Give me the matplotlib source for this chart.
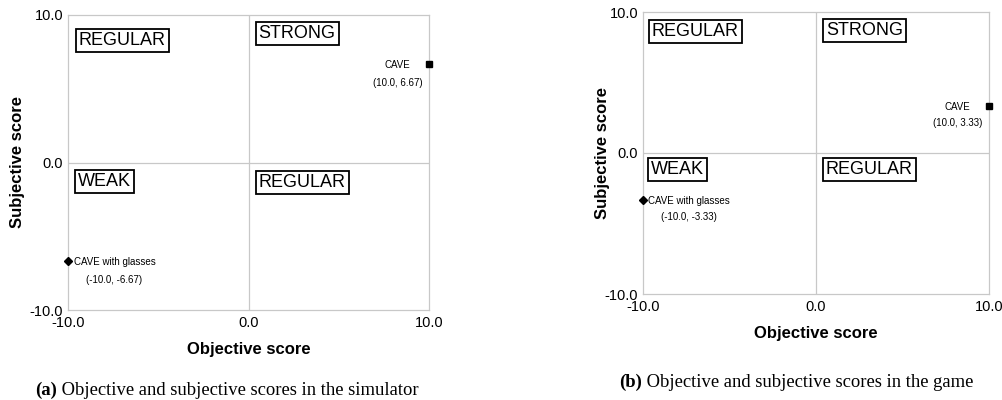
import matplotlib
matplotlib.use('Agg')
import matplotlib.pyplot as plt

plt.rcParams['font.family'] = ['Liberation Sans', 'DejaVu Sans']

# (x, y) scores
sim_cave = (10.0, 6.67)
sim_glasses = (-10.0, -6.67)
game_cave = (10.0, 3.33)
game_glasses = (-10.0, -3.33)

ticks = [-10.0, 0.0, 10.0]
tick_labels = ['-10.0', '0.0', '10.0']
quadrants = ['REGULAR', 'STRONG', 'WEAK', 'REGULAR']
captions = [('(a)', ' Objective and subjective scores in the simulator'),
            ('(b)', ' Objective and subjective scores in the game')]

grid_col = '#c8c8c8'


def draw_panel(ax, cave, glasses, box_pos, ylab_xy, text_gap, xlab_pad):
    ax.set_xlim(-10, 10)
    ax.set_ylim(-10, 10)
    ax.set_xticks(ticks)
    ax.set_xticklabels(tick_labels)
    ax.set_yticks(ticks)
    ax.set_yticklabels(tick_labels)
    ax.tick_params(length=0, labelsize=10.5)
    ax.tick_params(axis='y', pad=3.5)
    ax.tick_params(axis='x', pad=4)
    for s in ax.spines.values():
        s.set_color(grid_col)
        s.set_linewidth(0.9)
    ax.axhline(0, color=grid_col, lw=0.9, zorder=0)
    ax.axvline(0, color=grid_col, lw=0.9, zorder=0)

    for (bx, by), q in zip(box_pos, quadrants):
        ax.text(bx, by, q, transform=ax.transAxes, fontsize=13, ha='left', va='top',
                bbox=dict(boxstyle='square,pad=0.16', fc='white', ec='black', lw=1.3))

    ax.plot(cave[0], cave[1], 's', color='black', ms=5, clip_on=False, zorder=5)
    ax.plot(glasses[0], glasses[1], 'D', color='black', ms=4, clip_on=False, zorder=5)

    ax.annotate('CAVE\n(%.1f, %.2f)' % cave, xy=cave, xytext=(-5, 3),
                textcoords='offset points', ha='right', va='top', multialignment='center',
                fontsize=7, linespacing=text_gap, xycoords='data')
    ax.annotate('CAVE with glasses\n(%.1f, %.2f)' % glasses, xy=glasses, xytext=(4, 3),
                textcoords='offset points', ha='left', va='top', multialignment='center',
                fontsize=7, linespacing=text_gap, xycoords='data')

    ax.set_xlabel('Objective score', fontsize=12, fontweight='bold', labelpad=xlab_pad)
    ax.set_ylabel('Subjective score', fontsize=12, fontweight='bold')
    ax.yaxis.set_label_coords(*ylab_xy)


fig = plt.figure(figsize=(10.03, 4.0), dpi=100)
ax1 = fig.add_axes([0.0678, 0.225, 0.36, 0.7375])
ax2 = fig.add_axes([0.641, 0.265, 0.345, 0.705])

draw_panel(ax1, sim_cave, sim_glasses,
           [(0.030, 0.942), (0.528, 0.966), (0.028, 0.465), (0.528, 0.46)],
           (-0.119, 0.5), 2.0, 9)
draw_panel(ax2, game_cave, game_glasses,
           [(0.026, 0.96), (0.529, 0.965), (0.024, 0.472), (0.529, 0.472)],
           (-0.095, 0.5), 1.75, 9)

for (bold, rest), (cx, cy) in zip(captions, [(0.035, 0.013), (0.617, 0.033)]):
    t = fig.text(cx, cy, bold, fontsize=13.4, fontweight='bold', family='Liberation Serif')
    ax1.annotate(rest, xy=(1, 0), xycoords=t, va='bottom', ha='left',
                 fontsize=13.4, family='Liberation Serif', annotation_clip=False)

fig.savefig('out.png', dpi=100)
